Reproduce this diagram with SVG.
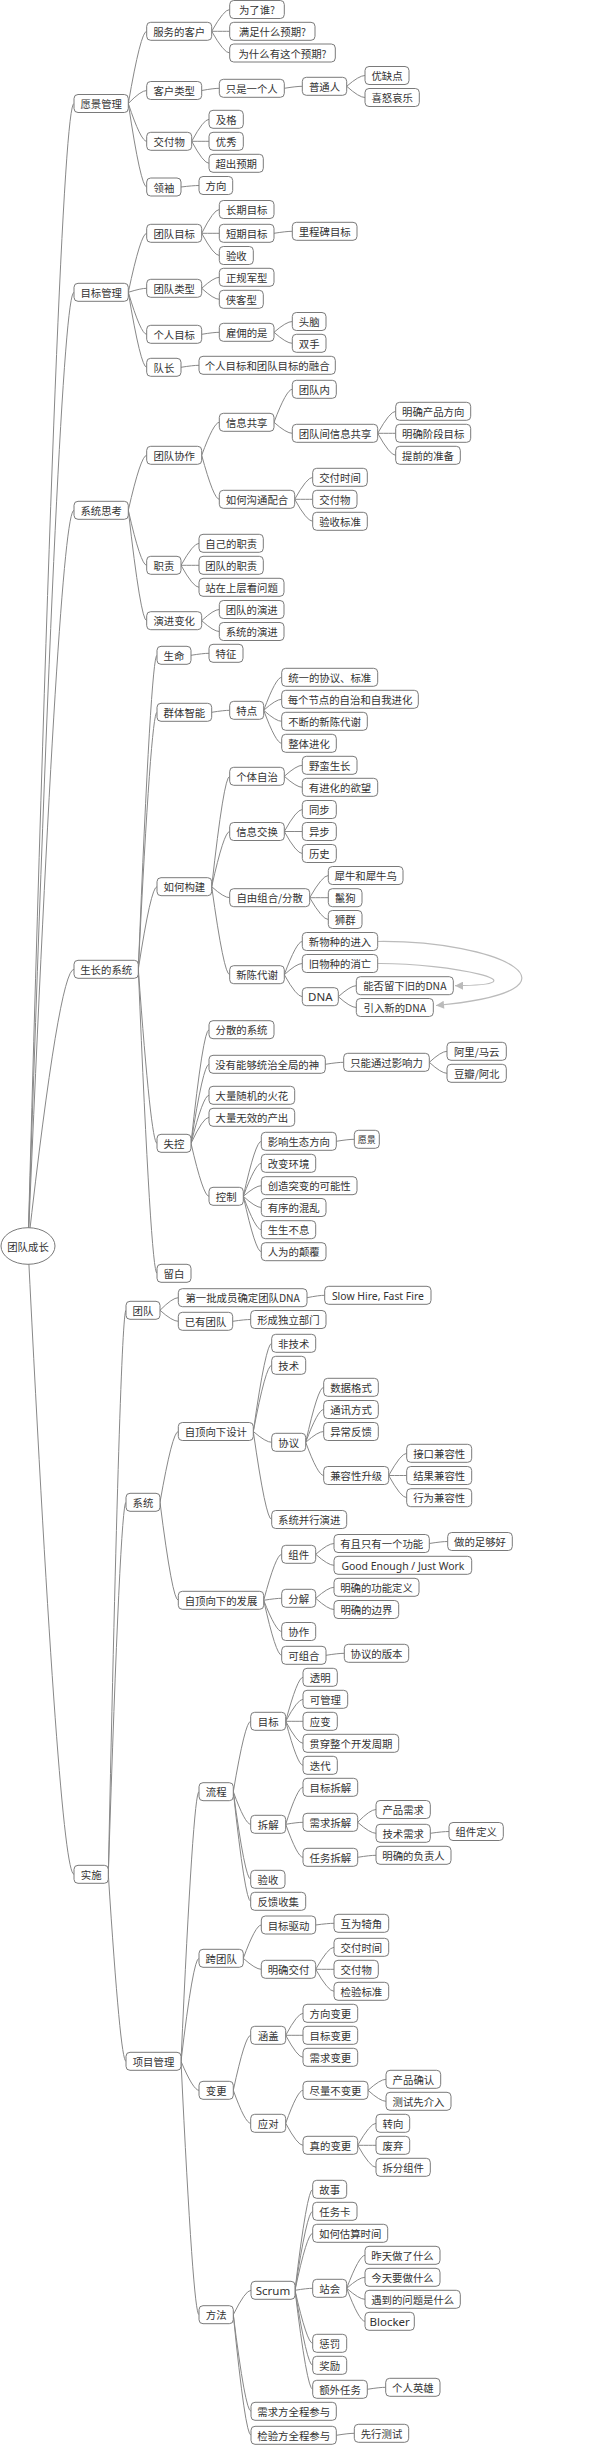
<svg xmlns="http://www.w3.org/2000/svg" width="611" height="2445" viewBox="0 0 611 2445">
<style>
.node rect{fill:#fff;stroke:#7a7a7a;stroke-width:1}
.node ellipse{fill:#fff;stroke:#7a7a7a;stroke-width:1}
.node text{font-family:"Noto Sans CJK SC","Noto Sans",sans-serif;font-size:10.4px;fill:#333;text-anchor:middle;dominant-baseline:central}
.node text.lat{font-family:"Noto Sans","Noto Sans CJK SC",sans-serif;font-size:11.5px}
.conn path{fill:none;stroke:#888;stroke-width:1}
.arrows path{fill:none;stroke:#bbb;stroke-width:1.2}
</style>
<defs>
<marker id="ah" viewBox="0 0 10 10" refX="10" refY="5" markerWidth="9" markerHeight="8" orient="auto" markerUnits="userSpaceOnUse"><path d="M0,0L10,5L0,10z" fill="#bbb" stroke="none"/></marker>
</defs>
<g class="conn" id="connectors">
<path d="M28 1246Q59.3 103.5 74 103.5"/>
<path d="M28 1246Q59.3 292.3 74 292.3"/>
<path d="M28 1246Q59.3 510.3 74 510.3"/>
<path d="M28 1246Q59.3 969.3 74 969.3"/>
<path d="M28 1246Q59.3 1874.3 74 1874.3"/>
<path d="M128.3 103.5Q140.8 31.3 146.7 31.3"/>
<path d="M128.3 103.5Q140.8 90.5 146.7 90.5"/>
<path d="M128.3 103.5Q140.8 141.3 146.7 141.3"/>
<path d="M128.3 103.5Q140.8 187 146.7 187"/>
<path d="M211.7 31.3Q223.9 9.5 229.7 9.5"/>
<path d="M211.7 31.3Q223.9 31.3 229.7 31.3"/>
<path d="M211.7 31.3Q223.9 53 229.7 53"/>
<path d="M201.7 90.5Q213.7 88.3 219.3 88.3"/>
<path d="M284.3 88.3Q296.5 86.3 302.3 86.3"/>
<path d="M346.7 86.3Q359.1 75.5 365 75.5"/>
<path d="M346.7 86.3Q359.1 97.5 365 97.5"/>
<path d="M191.7 141.3Q203.5 119.3 209 119.3"/>
<path d="M191.7 141.3Q203.5 141.3 209 141.3"/>
<path d="M191.7 141.3Q203.5 163.3 209 163.3"/>
<path d="M181 187Q193.2 185.5 199 185.5"/>
<path d="M128.3 292.3Q140.8 233.3 146.7 233.3"/>
<path d="M128.3 292.3Q140.8 288.3 146.7 288.3"/>
<path d="M128.3 292.3Q140.8 334.3 146.7 334.3"/>
<path d="M128.3 292.3Q140.8 367.3 146.7 367.3"/>
<path d="M201.7 233.3Q213.7 209.5 219.3 209.5"/>
<path d="M201.7 233.3Q213.7 233.3 219.3 233.3"/>
<path d="M201.7 233.3Q213.7 255.5 219.3 255.5"/>
<path d="M274 233.3Q286.4 231.3 292.3 231.3"/>
<path d="M201.7 288.3Q213.7 277.3 219.3 277.3"/>
<path d="M201.7 288.3Q213.7 299.3 219.3 299.3"/>
<path d="M201.7 334.3Q213.7 332.3 219.3 332.3"/>
<path d="M274 332.3Q286.4 321.5 292.3 321.5"/>
<path d="M274 332.3Q286.4 343.3 292.3 343.3"/>
<path d="M181 367.3Q193.2 365.3 199 365.3"/>
<path d="M128.3 510.3Q140.8 455.3 146.7 455.3"/>
<path d="M128.3 510.3Q140.8 565.3 146.7 565.3"/>
<path d="M128.3 510.3Q140.8 620.7 146.7 620.7"/>
<path d="M201.7 455.3Q213.7 422.3 219.3 422.3"/>
<path d="M201.7 455.3Q213.7 499.3 219.3 499.3"/>
<path d="M274 422.3Q286.4 389.3 292.3 389.3"/>
<path d="M274 422.3Q286.4 433.3 292.3 433.3"/>
<path d="M377.7 433.3Q389.9 411.3 395.7 411.3"/>
<path d="M377.7 433.3Q389.9 433.3 395.7 433.3"/>
<path d="M377.7 433.3Q389.9 455.3 395.7 455.3"/>
<path d="M294.7 499.3Q306.9 477.3 312.7 477.3"/>
<path d="M294.7 499.3Q306.9 499.3 312.7 499.3"/>
<path d="M294.7 499.3Q306.9 521.3 312.7 521.3"/>
<path d="M181 565.3Q193.2 543.3 199 543.3"/>
<path d="M181 565.3Q193.2 565.3 199 565.3"/>
<path d="M181 565.3Q193.2 587.3 199 587.3"/>
<path d="M201.7 620.7Q213.7 609.5 219.3 609.5"/>
<path d="M201.7 620.7Q213.7 631.5 219.3 631.5"/>
<path d="M138.3 969.3Q151 655.3 157 655.3"/>
<path d="M138.3 969.3Q151 712.3 157 712.3"/>
<path d="M138.3 969.3Q151 886.7 157 886.7"/>
<path d="M138.3 969.3Q151 1143.3 157 1143.3"/>
<path d="M138.3 969.3Q151 1273.3 157 1273.3"/>
<path d="M191 655.3Q203.2 653.3 209 653.3"/>
<path d="M211.7 712.3Q223.9 710.3 229.7 710.3"/>
<path d="M263.7 710.3Q275.9 677.3 281.7 677.3"/>
<path d="M263.7 710.3Q275.9 699.3 281.7 699.3"/>
<path d="M263.7 710.3Q275.9 721.3 281.7 721.3"/>
<path d="M263.7 710.3Q275.9 743.3 281.7 743.3"/>
<path d="M211.7 886.7Q223.9 776.3 229.7 776.3"/>
<path d="M211.7 886.7Q223.9 831.5 229.7 831.5"/>
<path d="M211.7 886.7Q223.9 897.7 229.7 897.7"/>
<path d="M211.7 886.7Q223.9 974.7 229.7 974.7"/>
<path d="M284.3 776.3Q296.5 765.3 302.3 765.3"/>
<path d="M284.3 776.3Q296.5 787.3 302.3 787.3"/>
<path d="M284.3 831.5Q296.5 809.5 302.3 809.5"/>
<path d="M284.3 831.5Q296.5 831.5 302.3 831.5"/>
<path d="M284.3 831.5Q296.5 853.5 302.3 853.5"/>
<path d="M309.7 897.7Q322.3 875.5 328.3 875.5"/>
<path d="M309.7 897.7Q322.3 897.7 328.3 897.7"/>
<path d="M309.7 897.7Q322.3 919.5 328.3 919.5"/>
<path d="M284.3 974.7Q296.5 941.5 302.3 941.5"/>
<path d="M284.3 974.7Q296.5 963.5 302.3 963.5"/>
<path d="M284.3 974.7Q296.5 996.7 302.3 996.7"/>
<path d="M338.3 996.7Q350.5 985.7 356.3 985.7"/>
<path d="M338.3 996.7Q350.5 1007.5 356.3 1007.5"/>
<path d="M191 1143.3Q203.2 1029.7 209 1029.7"/>
<path d="M191 1143.3Q203.2 1064.3 209 1064.3"/>
<path d="M191 1143.3Q203.2 1095.3 209 1095.3"/>
<path d="M191 1143.3Q203.2 1117.3 209 1117.3"/>
<path d="M191 1143.3Q203.2 1196.3 209 1196.3"/>
<path d="M325.3 1064.3Q337.8 1062.3 343.7 1062.3"/>
<path d="M429.3 1062.3Q441.3 1051.3 447 1051.3"/>
<path d="M429.3 1062.3Q441.3 1073.3 447 1073.3"/>
<path d="M243.3 1196.3Q255.5 1141.3 261.3 1141.3"/>
<path d="M243.3 1196.3Q255.5 1163.3 261.3 1163.3"/>
<path d="M243.3 1196.3Q255.5 1185.7 261.3 1185.7"/>
<path d="M243.3 1196.3Q255.5 1207.5 261.3 1207.5"/>
<path d="M243.3 1196.3Q255.5 1229.7 261.3 1229.7"/>
<path d="M243.3 1196.3Q255.5 1251.7 261.3 1251.7"/>
<path d="M336.3 1141.3Q348.5 1139.3 354.3 1139.3"/>
<path d="M108.3 1874.3Q120.3 1310.3 126 1310.3"/>
<path d="M108.3 1874.3Q120.3 1502.3 126 1502.3"/>
<path d="M108.3 1874.3Q120.3 2061.3 126 2061.3"/>
<path d="M160 1310.3Q172.4 1297.7 178.3 1297.7"/>
<path d="M160 1310.3Q172.4 1321.3 178.3 1321.3"/>
<path d="M307 1297.7Q319 1295.3 324.7 1295.3"/>
<path d="M232.7 1321.3Q244.9 1319.5 250.7 1319.5"/>
<path d="M160 1502.3Q172.4 1431.5 178.3 1431.5"/>
<path d="M160 1502.3Q172.4 1600.3 178.3 1600.3"/>
<path d="M253.3 1431.5Q265.8 1343.3 271.7 1343.3"/>
<path d="M253.3 1431.5Q265.8 1365.3 271.7 1365.3"/>
<path d="M253.3 1431.5Q265.8 1442.3 271.7 1442.3"/>
<path d="M253.3 1431.5Q265.8 1519.5 271.7 1519.5"/>
<path d="M305.7 1442.3Q317.9 1387.3 323.7 1387.3"/>
<path d="M305.7 1442.3Q317.9 1409.5 323.7 1409.5"/>
<path d="M305.7 1442.3Q317.9 1431.5 323.7 1431.5"/>
<path d="M305.7 1442.3Q317.9 1475.5 323.7 1475.5"/>
<path d="M388.7 1475.5Q400.9 1453.3 406.7 1453.3"/>
<path d="M388.7 1475.5Q400.9 1475.5 406.7 1475.5"/>
<path d="M388.7 1475.5Q400.9 1497.7 406.7 1497.7"/>
<path d="M263.7 1600.3Q275.9 1554.3 281.7 1554.3"/>
<path d="M263.7 1600.3Q275.9 1598.3 281.7 1598.3"/>
<path d="M263.7 1600.3Q275.9 1631.5 281.7 1631.5"/>
<path d="M263.7 1600.3Q275.9 1655.3 281.7 1655.3"/>
<path d="M315.7 1554.3Q328.1 1543.5 334 1543.5"/>
<path d="M315.7 1554.3Q328.1 1565.3 334 1565.3"/>
<path d="M429.3 1543.5Q441.8 1541.5 447.7 1541.5"/>
<path d="M315.7 1598.3Q328.1 1587.3 334 1587.3"/>
<path d="M315.7 1598.3Q328.1 1609.5 334 1609.5"/>
<path d="M326 1655.3Q338.4 1653.3 344.3 1653.3"/>
<path d="M181 2061.3Q193.2 1791.7 199 1791.7"/>
<path d="M181 2061.3Q193.2 1958.3 199 1958.3"/>
<path d="M181 2061.3Q193.2 2090.3 199 2090.3"/>
<path d="M181 2061.3Q193.2 2314.7 199 2314.7"/>
<path d="M233.3 1791.7Q245.1 1721.3 250.7 1721.3"/>
<path d="M233.3 1791.7Q245.1 1824.3 250.7 1824.3"/>
<path d="M233.3 1791.7Q245.1 1879.3 250.7 1879.3"/>
<path d="M233.3 1791.7Q245.1 1901.3 250.7 1901.3"/>
<path d="M285.7 1721.3Q297.5 1677.3 303 1677.3"/>
<path d="M285.7 1721.3Q297.5 1699.3 303 1699.3"/>
<path d="M285.7 1721.3Q297.5 1721.3 303 1721.3"/>
<path d="M285.7 1721.3Q297.5 1743.3 303 1743.3"/>
<path d="M285.7 1721.3Q297.5 1765.3 303 1765.3"/>
<path d="M285.7 1824.3Q297.5 1787.3 303 1787.3"/>
<path d="M285.7 1824.3Q297.5 1822.3 303 1822.3"/>
<path d="M285.7 1824.3Q297.5 1857.3 303 1857.3"/>
<path d="M357.7 1822.3Q370.1 1809.5 376 1809.5"/>
<path d="M357.7 1822.3Q370.1 1833.3 376 1833.3"/>
<path d="M430.3 1833.3Q443 1831.5 449 1831.5"/>
<path d="M357.7 1857.3Q370.1 1855.3 376 1855.3"/>
<path d="M243.3 1958.3Q255.5 1925 261.3 1925"/>
<path d="M243.3 1958.3Q255.5 1969.3 261.3 1969.3"/>
<path d="M315.7 1925Q328.1 1923.3 334 1923.3"/>
<path d="M315.7 1969.3Q328.1 1947.3 334 1947.3"/>
<path d="M315.7 1969.3Q328.1 1969.3 334 1969.3"/>
<path d="M315.7 1969.3Q328.1 1991.3 334 1991.3"/>
<path d="M233.3 2090.3Q245.1 2035.3 250.7 2035.3"/>
<path d="M233.3 2090.3Q245.1 2123.3 250.7 2123.3"/>
<path d="M285.7 2035.3Q297.5 2013.3 303 2013.3"/>
<path d="M285.7 2035.3Q297.5 2035.3 303 2035.3"/>
<path d="M285.7 2035.3Q297.5 2057.3 303 2057.3"/>
<path d="M285.7 2123.3Q297.5 2090.3 303 2090.3"/>
<path d="M285.7 2123.3Q297.5 2145.3 303 2145.3"/>
<path d="M368 2090.3Q380.2 2079.3 386 2079.3"/>
<path d="M368 2090.3Q380.2 2101.3 386 2101.3"/>
<path d="M357.7 2145.3Q370.1 2123.3 376 2123.3"/>
<path d="M357.7 2145.3Q370.1 2145.3 376 2145.3"/>
<path d="M357.7 2145.3Q370.1 2167.3 376 2167.3"/>
<path d="M233.3 2314.7Q245.3 2290.3 251 2290.3"/>
<path d="M233.3 2314.7Q245.3 2411.3 251 2411.3"/>
<path d="M233.3 2314.7Q245.3 2435.3 251 2435.3"/>
<path d="M295 2290.3Q307 2189.3 312.7 2189.3"/>
<path d="M295 2290.3Q307 2211.3 312.7 2211.3"/>
<path d="M295 2290.3Q307 2233.3 312.7 2233.3"/>
<path d="M295 2290.3Q307 2288.3 312.7 2288.3"/>
<path d="M295 2290.3Q307 2343.3 312.7 2343.3"/>
<path d="M295 2290.3Q307 2365.3 312.7 2365.3"/>
<path d="M295 2290.3Q307 2389.3 312.7 2389.3"/>
<path d="M346.7 2288.3Q359.1 2255.3 365 2255.3"/>
<path d="M346.7 2288.3Q359.1 2277.3 365 2277.3"/>
<path d="M346.7 2288.3Q359.1 2299.3 365 2299.3"/>
<path d="M346.7 2288.3Q359.1 2321.3 365 2321.3"/>
<path d="M367.3 2389.3Q379.8 2387.3 385.7 2387.3"/>
<path d="M336.3 2435.3Q348.5 2433.3 354.3 2433.3"/>
</g>
<g class="arrows" id="relations">
<path d="M377.7 941.5C500 940 600 990 436 1005.5" marker-end="url(#ah)"/>
<path d="M377.7 963.5C450 963 550 985 455 985.7" marker-end="url(#ah)"/>
</g>
<g id="nodes">
<g id="root" class="node"><ellipse cx="28" cy="1246" rx="27" ry="18.3"/><text x="28" y="1246">团队成长</text></g>
<g id="n1" class="node"><rect x="74" y="94.5" width="54.3" height="18" rx="4"/><text x="101.2" y="103.5">愿景管理</text></g>
<g id="n1a" class="node"><rect x="146.7" y="22.3" width="65" height="18" rx="4"/><text x="179.2" y="31.3">服务的客户</text></g>
<g id="n1a1" class="node"><rect x="229.7" y="0.5" width="54.6" height="18" rx="4"/><text x="257" y="9.5">为了谁?</text></g>
<g id="n1a2" class="node"><rect x="229.7" y="22.3" width="85.3" height="18" rx="4"/><text x="272.4" y="31.3">满足什么预期?</text></g>
<g id="n1a3" class="node"><rect x="229.7" y="44" width="105.6" height="18" rx="4"/><text x="282.5" y="53">为什么有这个预期?</text></g>
<g id="n1b" class="node"><rect x="146.7" y="81.5" width="55" height="18" rx="4"/><text x="174.2" y="90.5">客户类型</text></g>
<g id="n1b1" class="node"><rect x="219.3" y="79.3" width="65" height="18" rx="4"/><text x="251.8" y="88.3">只是一个人</text></g>
<g id="n1b1a" class="node"><rect x="302.3" y="77.3" width="44.4" height="18" rx="4"/><text x="324.5" y="86.3">普通人</text></g>
<g id="n1b1a1" class="node"><rect x="365" y="66.5" width="44" height="18" rx="4"/><text x="387" y="75.5">优缺点</text></g>
<g id="n1b1a2" class="node"><rect x="365" y="88.5" width="54.3" height="18" rx="4"/><text x="392.2" y="97.5">喜怒哀乐</text></g>
<g id="n1c" class="node"><rect x="146.7" y="132.3" width="45" height="18" rx="4"/><text x="169.2" y="141.3">交付物</text></g>
<g id="n1c1" class="node"><rect x="209" y="110.3" width="34.3" height="18" rx="4"/><text x="226.2" y="119.3">及格</text></g>
<g id="n1c2" class="node"><rect x="209" y="132.3" width="34.3" height="18" rx="4"/><text x="226.2" y="141.3">优秀</text></g>
<g id="n1c3" class="node"><rect x="209" y="154.3" width="54.3" height="18" rx="4"/><text x="236.2" y="163.3">超出预期</text></g>
<g id="n1d" class="node"><rect x="146.7" y="178" width="34.3" height="18" rx="4"/><text x="163.9" y="187">领袖</text></g>
<g id="n1d1" class="node"><rect x="199" y="176.5" width="33.7" height="18" rx="4"/><text x="215.9" y="185.5">方向</text></g>
<g id="n2" class="node"><rect x="74" y="283.3" width="54.3" height="18" rx="4"/><text x="101.2" y="292.3">目标管理</text></g>
<g id="n2a" class="node"><rect x="146.7" y="224.3" width="55" height="18" rx="4"/><text x="174.2" y="233.3">团队目标</text></g>
<g id="n2a1" class="node"><rect x="219.3" y="200.5" width="54.7" height="18" rx="4"/><text x="246.7" y="209.5">长期目标</text></g>
<g id="n2a2" class="node"><rect x="219.3" y="224.3" width="54.7" height="18" rx="4"/><text x="246.7" y="233.3">短期目标</text></g>
<g id="n2a2a" class="node"><rect x="292.3" y="222.3" width="64.7" height="18" rx="4"/><text x="324.7" y="231.3">里程碑目标</text></g>
<g id="n2a3" class="node"><rect x="219.3" y="246.5" width="34" height="18" rx="4"/><text x="236.3" y="255.5">验收</text></g>
<g id="n2b" class="node"><rect x="146.7" y="279.3" width="55" height="18" rx="4"/><text x="174.2" y="288.3">团队类型</text></g>
<g id="n2b1" class="node"><rect x="219.3" y="268.3" width="54.7" height="18" rx="4"/><text x="246.7" y="277.3">正规军型</text></g>
<g id="n2b2" class="node"><rect x="219.3" y="290.3" width="44" height="18" rx="4"/><text x="241.3" y="299.3">侠客型</text></g>
<g id="n2c" class="node"><rect x="146.7" y="325.3" width="55" height="18" rx="4"/><text x="174.2" y="334.3">个人目标</text></g>
<g id="n2c1" class="node"><rect x="219.3" y="323.3" width="54.7" height="18" rx="4"/><text x="246.7" y="332.3">雇佣的是</text></g>
<g id="n2c1a" class="node"><rect x="292.3" y="312.5" width="33.7" height="18" rx="4"/><text x="309.2" y="321.5">头脑</text></g>
<g id="n2c1b" class="node"><rect x="292.3" y="334.3" width="33.7" height="18" rx="4"/><text x="309.2" y="343.3">双手</text></g>
<g id="n2d" class="node"><rect x="146.7" y="358.3" width="34.3" height="18" rx="4"/><text x="163.9" y="367.3">队长</text></g>
<g id="n2d1" class="node"><rect x="199" y="356.3" width="136.3" height="18" rx="4"/><text x="267.2" y="365.3">个人目标和团队目标的融合</text></g>
<g id="n3" class="node"><rect x="74" y="501.3" width="54.3" height="18" rx="4"/><text x="101.2" y="510.3">系统思考</text></g>
<g id="n3a" class="node"><rect x="146.7" y="446.3" width="55" height="18" rx="4"/><text x="174.2" y="455.3">团队协作</text></g>
<g id="n3a1" class="node"><rect x="219.3" y="413.3" width="54.7" height="18" rx="4"/><text x="246.7" y="422.3">信息共享</text></g>
<g id="n3a1a" class="node"><rect x="292.3" y="380.3" width="44" height="18" rx="4"/><text x="314.3" y="389.3">团队内</text></g>
<g id="n3a1b" class="node"><rect x="292.3" y="424.3" width="85.4" height="18" rx="4"/><text x="335" y="433.3">团队间信息共享</text></g>
<g id="n3a1b1" class="node"><rect x="395.7" y="402.3" width="75" height="18" rx="4"/><text x="433.2" y="411.3">明确产品方向</text></g>
<g id="n3a1b2" class="node"><rect x="395.7" y="424.3" width="75" height="18" rx="4"/><text x="433.2" y="433.3">明确阶段目标</text></g>
<g id="n3a1b3" class="node"><rect x="395.7" y="446.3" width="64.6" height="18" rx="4"/><text x="428" y="455.3">提前的准备</text></g>
<g id="n3a2" class="node"><rect x="219.3" y="490.3" width="75.4" height="18" rx="4"/><text x="257" y="499.3">如何沟通配合</text></g>
<g id="n3a2a" class="node"><rect x="312.7" y="468.3" width="54.6" height="18" rx="4"/><text x="340" y="477.3">交付时间</text></g>
<g id="n3a2b" class="node"><rect x="312.7" y="490.3" width="44.3" height="18" rx="4"/><text x="334.9" y="499.3">交付物</text></g>
<g id="n3a2c" class="node"><rect x="312.7" y="512.3" width="54.6" height="18" rx="4"/><text x="340" y="521.3">验收标准</text></g>
<g id="n3b" class="node"><rect x="146.7" y="556.3" width="34.3" height="18" rx="4"/><text x="163.9" y="565.3">职责</text></g>
<g id="n3b1" class="node"><rect x="199" y="534.3" width="64.3" height="18" rx="4"/><text x="231.2" y="543.3">自己的职责</text></g>
<g id="n3b2" class="node"><rect x="199" y="556.3" width="64.3" height="18" rx="4"/><text x="231.2" y="565.3">团队的职责</text></g>
<g id="n3b3" class="node"><rect x="199" y="578.3" width="85" height="18" rx="4"/><text x="241.5" y="587.3">站在上层看问题</text></g>
<g id="n3c" class="node"><rect x="146.7" y="611.7" width="55" height="18" rx="4"/><text x="174.2" y="620.7">演进变化</text></g>
<g id="n3c1" class="node"><rect x="219.3" y="600.5" width="64.7" height="18" rx="4"/><text x="251.7" y="609.5">团队的演进</text></g>
<g id="n3c2" class="node"><rect x="219.3" y="622.5" width="64.7" height="18" rx="4"/><text x="251.7" y="631.5">系统的演进</text></g>
<g id="n4" class="node"><rect x="74" y="960.3" width="64.3" height="18" rx="4"/><text x="106.2" y="969.3">生长的系统</text></g>
<g id="n4a" class="node"><rect x="157" y="646.3" width="34" height="18" rx="4"/><text x="174" y="655.3">生命</text></g>
<g id="n4a1" class="node"><rect x="209" y="644.3" width="34" height="18" rx="4"/><text x="226" y="653.3">特征</text></g>
<g id="n4b" class="node"><rect x="157" y="703.3" width="54.7" height="18" rx="4"/><text x="184.4" y="712.3">群体智能</text></g>
<g id="n4b1" class="node"><rect x="229.7" y="701.3" width="34" height="18" rx="4"/><text x="246.7" y="710.3">特点</text></g>
<g id="n4b1a" class="node"><rect x="281.7" y="668.3" width="96" height="18" rx="4"/><text x="329.7" y="677.3">统一的协议、标准</text></g>
<g id="n4b1b" class="node"><rect x="281.7" y="690.3" width="136.6" height="18" rx="4"/><text x="350" y="699.3">每个节点的自治和自我进化</text></g>
<g id="n4b1c" class="node"><rect x="281.7" y="712.3" width="85.6" height="18" rx="4"/><text x="324.5" y="721.3">不断的新陈代谢</text></g>
<g id="n4b1d" class="node"><rect x="281.7" y="734.3" width="54.6" height="18" rx="4"/><text x="309" y="743.3">整体进化</text></g>
<g id="n4c" class="node"><rect x="157" y="877.7" width="54.7" height="18" rx="4"/><text x="184.4" y="886.7">如何构建</text></g>
<g id="n4c1" class="node"><rect x="229.7" y="767.3" width="54.6" height="18" rx="4"/><text x="257" y="776.3">个体自治</text></g>
<g id="n4c1a" class="node"><rect x="302.3" y="756.3" width="54.7" height="18" rx="4"/><text x="329.7" y="765.3">野蛮生长</text></g>
<g id="n4c1b" class="node"><rect x="302.3" y="778.3" width="75.4" height="18" rx="4"/><text x="340" y="787.3">有进化的欲望</text></g>
<g id="n4c2" class="node"><rect x="229.7" y="822.5" width="54.6" height="18" rx="4"/><text x="257" y="831.5">信息交换</text></g>
<g id="n4c2a" class="node"><rect x="302.3" y="800.5" width="34" height="18" rx="4"/><text x="319.3" y="809.5">同步</text></g>
<g id="n4c2b" class="node"><rect x="302.3" y="822.5" width="34" height="18" rx="4"/><text x="319.3" y="831.5">异步</text></g>
<g id="n4c2c" class="node"><rect x="302.3" y="844.5" width="34" height="18" rx="4"/><text x="319.3" y="853.5">历史</text></g>
<g id="n4c3" class="node"><rect x="229.7" y="888.7" width="80" height="18" rx="4"/><text x="269.7" y="897.7">自由组合/分散</text></g>
<g id="n4c3a" class="node"><rect x="328.3" y="866.5" width="74.7" height="18" rx="4"/><text x="365.7" y="875.5">犀牛和犀牛鸟</text></g>
<g id="n4c3b" class="node"><rect x="328.3" y="888.7" width="33.7" height="18" rx="4"/><text x="345.2" y="897.7">鬣狗</text></g>
<g id="n4c3c" class="node"><rect x="328.3" y="910.5" width="33.7" height="18" rx="4"/><text x="345.2" y="919.5">狮群</text></g>
<g id="n4c4" class="node"><rect x="229.7" y="965.7" width="54.6" height="18" rx="4"/><text x="257" y="974.7">新陈代谢</text></g>
<g id="n4c4a" class="node"><rect x="302.3" y="932.5" width="75.4" height="18" rx="4"/><text x="340" y="941.5">新物种的进入</text></g>
<g id="n4c4b" class="node"><rect x="302.3" y="954.5" width="75.4" height="18" rx="4"/><text x="340" y="963.5">旧物种的消亡</text></g>
<g id="n4c4c" class="node"><rect x="302.3" y="987.7" width="36" height="18" rx="4"/><text x="320.3" y="996.7" class="lat">DNA</text></g>
<g id="n4c4c1" class="node"><rect x="356.3" y="976.7" width="97" height="18" rx="4"/><text x="404.8" y="985.7">能否留下旧的DNA</text></g>
<g id="n4c4c2" class="node"><rect x="356.3" y="998.5" width="77" height="18" rx="4"/><text x="394.8" y="1007.5">引入新的DNA</text></g>
<g id="n4d" class="node"><rect x="157" y="1134.3" width="34" height="18" rx="4"/><text x="174" y="1143.3">失控</text></g>
<g id="n4d1" class="node"><rect x="209" y="1020.7" width="65" height="18" rx="4"/><text x="241.5" y="1029.7">分散的系统</text></g>
<g id="n4d2" class="node"><rect x="209" y="1055.3" width="116.3" height="18" rx="4"/><text x="267.2" y="1064.3">没有能够统治全局的神</text></g>
<g id="n4d2a" class="node"><rect x="343.7" y="1053.3" width="85.6" height="18" rx="4"/><text x="386.5" y="1062.3">只能通过影响力</text></g>
<g id="n4d2a1" class="node"><rect x="447" y="1042.3" width="59.3" height="18" rx="4"/><text x="476.7" y="1051.3">阿里/马云</text></g>
<g id="n4d2a2" class="node"><rect x="447" y="1064.3" width="59.3" height="18" rx="4"/><text x="476.7" y="1073.3">豆瓣/阿北</text></g>
<g id="n4d3" class="node"><rect x="209" y="1086.3" width="85.7" height="18" rx="4"/><text x="251.9" y="1095.3">大量随机的火花</text></g>
<g id="n4d4" class="node"><rect x="209" y="1108.3" width="85.7" height="18" rx="4"/><text x="251.9" y="1117.3">大量无效的产出</text></g>
<g id="n4d5" class="node"><rect x="209" y="1187.3" width="34.3" height="18" rx="4"/><text x="226.2" y="1196.3">控制</text></g>
<g id="n4d5a" class="node"><rect x="261.3" y="1132.3" width="75" height="18" rx="4"/><text x="298.8" y="1141.3">影响生态方向</text></g>
<g id="n4d5a1" class="node"><rect x="354.3" y="1130.3" width="25" height="18" rx="4"/><text x="366.8" y="1139.3" style="font-size:9px">愿景</text></g>
<g id="n4d5b" class="node"><rect x="261.3" y="1154.3" width="54.4" height="18" rx="4"/><text x="288.5" y="1163.3">改变环境</text></g>
<g id="n4d5c" class="node"><rect x="261.3" y="1176.7" width="95.7" height="18" rx="4"/><text x="309.2" y="1185.7">创造突变的可能性</text></g>
<g id="n4d5d" class="node"><rect x="261.3" y="1198.5" width="64.7" height="18" rx="4"/><text x="293.7" y="1207.5">有序的混乱</text></g>
<g id="n4d5e" class="node"><rect x="261.3" y="1220.7" width="54.4" height="18" rx="4"/><text x="288.5" y="1229.7">生生不息</text></g>
<g id="n4d5f" class="node"><rect x="261.3" y="1242.7" width="64.7" height="18" rx="4"/><text x="293.7" y="1251.7">人为的颠覆</text></g>
<g id="n4e" class="node"><rect x="157" y="1264.3" width="34" height="18" rx="4"/><text x="174" y="1273.3">留白</text></g>
<g id="n5" class="node"><rect x="74" y="1865.3" width="34.3" height="18" rx="4"/><text x="91.2" y="1874.3">实施</text></g>
<g id="n5a" class="node"><rect x="126" y="1301.3" width="34" height="18" rx="4"/><text x="143" y="1310.3">团队</text></g>
<g id="n5a1" class="node"><rect x="178.3" y="1288.7" width="128.7" height="18" rx="4"/><text x="242.7" y="1297.7">第一批成员确定团队DNA</text></g>
<g id="n5a1a" class="node"><rect x="324.7" y="1286.3" width="106.3" height="18" rx="4"/><text x="377.9" y="1295.3" class="lat" textLength="92" lengthAdjust="spacingAndGlyphs">Slow Hire, Fast Fire</text></g>
<g id="n5a2" class="node"><rect x="178.3" y="1312.3" width="54.4" height="18" rx="4"/><text x="205.5" y="1321.3">已有团队</text></g>
<g id="n5a2a" class="node"><rect x="250.7" y="1310.5" width="75.3" height="18" rx="4"/><text x="288.4" y="1319.5">形成独立部门</text></g>
<g id="n5b" class="node"><rect x="126" y="1493.3" width="34" height="18" rx="4"/><text x="143" y="1502.3">系统</text></g>
<g id="n5b1" class="node"><rect x="178.3" y="1422.5" width="75" height="18" rx="4"/><text x="215.8" y="1431.5">自顶向下设计</text></g>
<g id="n5b1a" class="node"><rect x="271.7" y="1334.3" width="44" height="18" rx="4"/><text x="293.7" y="1343.3">非技术</text></g>
<g id="n5b1b" class="node"><rect x="271.7" y="1356.3" width="34" height="18" rx="4"/><text x="288.7" y="1365.3">技术</text></g>
<g id="n5b1c" class="node"><rect x="271.7" y="1433.3" width="34" height="18" rx="4"/><text x="288.7" y="1442.3">协议</text></g>
<g id="n5b1c1" class="node"><rect x="323.7" y="1378.3" width="54.6" height="18" rx="4"/><text x="351" y="1387.3">数据格式</text></g>
<g id="n5b1c2" class="node"><rect x="323.7" y="1400.5" width="54.6" height="18" rx="4"/><text x="351" y="1409.5">通讯方式</text></g>
<g id="n5b1c3" class="node"><rect x="323.7" y="1422.5" width="54.6" height="18" rx="4"/><text x="351" y="1431.5">异常反馈</text></g>
<g id="n5b1c4" class="node"><rect x="323.7" y="1466.5" width="65" height="18" rx="4"/><text x="356.2" y="1475.5">兼容性升级</text></g>
<g id="n5b1c4a" class="node"><rect x="406.7" y="1444.3" width="65" height="18" rx="4"/><text x="439.2" y="1453.3">接口兼容性</text></g>
<g id="n5b1c4b" class="node"><rect x="406.7" y="1466.5" width="65" height="18" rx="4"/><text x="439.2" y="1475.5">结果兼容性</text></g>
<g id="n5b1c4c" class="node"><rect x="406.7" y="1488.7" width="65" height="18" rx="4"/><text x="439.2" y="1497.7">行为兼容性</text></g>
<g id="n5b1d" class="node"><rect x="271.7" y="1510.5" width="75" height="18" rx="4"/><text x="309.2" y="1519.5">系统并行演进</text></g>
<g id="n5b2" class="node"><rect x="178.3" y="1591.3" width="85.4" height="18" rx="4"/><text x="221" y="1600.3">自顶向下的发展</text></g>
<g id="n5b2a" class="node"><rect x="281.7" y="1545.3" width="34" height="18" rx="4"/><text x="298.7" y="1554.3">组件</text></g>
<g id="n5b2a1" class="node"><rect x="334" y="1534.5" width="95.3" height="18" rx="4"/><text x="381.7" y="1543.5">有且只有一个功能</text></g>
<g id="n5b2a1a" class="node"><rect x="447.7" y="1532.5" width="64.6" height="18" rx="4"/><text x="480" y="1541.5">做的足够好</text></g>
<g id="n5b2a2" class="node"><rect x="334" y="1556.3" width="137.7" height="18" rx="4"/><text x="402.9" y="1565.3" class="lat" textLength="123" lengthAdjust="spacingAndGlyphs">Good Enough / Just Work</text></g>
<g id="n5b2b" class="node"><rect x="281.7" y="1589.3" width="34" height="18" rx="4"/><text x="298.7" y="1598.3">分解</text></g>
<g id="n5b2b1" class="node"><rect x="334" y="1578.3" width="85" height="18" rx="4"/><text x="376.5" y="1587.3">明确的功能定义</text></g>
<g id="n5b2b2" class="node"><rect x="334" y="1600.5" width="64.7" height="18" rx="4"/><text x="366.4" y="1609.5">明确的边界</text></g>
<g id="n5b2c" class="node"><rect x="281.7" y="1622.5" width="34" height="18" rx="4"/><text x="298.7" y="1631.5">协作</text></g>
<g id="n5b2d" class="node"><rect x="281.7" y="1646.3" width="44.3" height="18" rx="4"/><text x="303.9" y="1655.3">可组合</text></g>
<g id="n5b2d1" class="node"><rect x="344.3" y="1644.3" width="64.4" height="18" rx="4"/><text x="376.5" y="1653.3">协议的版本</text></g>
<g id="n5c" class="node"><rect x="126" y="2052.3" width="55" height="18" rx="4"/><text x="153.5" y="2061.3">项目管理</text></g>
<g id="n5c1" class="node"><rect x="199" y="1782.7" width="34.3" height="18" rx="4"/><text x="216.2" y="1791.7">流程</text></g>
<g id="n5c1a" class="node"><rect x="250.7" y="1712.3" width="35" height="18" rx="4"/><text x="268.2" y="1721.3">目标</text></g>
<g id="n5c1a1" class="node"><rect x="303" y="1668.3" width="34.3" height="18" rx="4"/><text x="320.2" y="1677.3">透明</text></g>
<g id="n5c1a2" class="node"><rect x="303" y="1690.3" width="44.7" height="18" rx="4"/><text x="325.4" y="1699.3">可管理</text></g>
<g id="n5c1a3" class="node"><rect x="303" y="1712.3" width="34.3" height="18" rx="4"/><text x="320.2" y="1721.3">应变</text></g>
<g id="n5c1a4" class="node"><rect x="303" y="1734.3" width="95.7" height="18" rx="4"/><text x="350.9" y="1743.3">贯穿整个开发周期</text></g>
<g id="n5c1a5" class="node"><rect x="303" y="1756.3" width="34.3" height="18" rx="4"/><text x="320.2" y="1765.3">迭代</text></g>
<g id="n5c1b" class="node"><rect x="250.7" y="1815.3" width="35" height="18" rx="4"/><text x="268.2" y="1824.3">拆解</text></g>
<g id="n5c1b1" class="node"><rect x="303" y="1778.3" width="54.7" height="18" rx="4"/><text x="330.4" y="1787.3">目标拆解</text></g>
<g id="n5c1b2" class="node"><rect x="303" y="1813.3" width="54.7" height="18" rx="4"/><text x="330.4" y="1822.3">需求拆解</text></g>
<g id="n5c1b2a" class="node"><rect x="376" y="1800.5" width="54.3" height="18" rx="4"/><text x="403.2" y="1809.5">产品需求</text></g>
<g id="n5c1b2b" class="node"><rect x="376" y="1824.3" width="54.3" height="18" rx="4"/><text x="403.2" y="1833.3">技术需求</text></g>
<g id="n5c1b2b1" class="node"><rect x="449" y="1822.5" width="54.3" height="18" rx="4"/><text x="476.2" y="1831.5">组件定义</text></g>
<g id="n5c1b3" class="node"><rect x="303" y="1848.3" width="54.7" height="18" rx="4"/><text x="330.4" y="1857.3">任务拆解</text></g>
<g id="n5c1b3a" class="node"><rect x="376" y="1846.3" width="75" height="18" rx="4"/><text x="413.5" y="1855.3">明确的负责人</text></g>
<g id="n5c1c" class="node"><rect x="250.7" y="1870.3" width="34.3" height="18" rx="4"/><text x="267.9" y="1879.3">验收</text></g>
<g id="n5c1d" class="node"><rect x="250.7" y="1892.3" width="55" height="18" rx="4"/><text x="278.2" y="1901.3">反馈收集</text></g>
<g id="n5c2" class="node"><rect x="199" y="1949.3" width="44.3" height="18" rx="4"/><text x="221.2" y="1958.3">跨团队</text></g>
<g id="n5c2a" class="node"><rect x="261.3" y="1916" width="54.4" height="18" rx="4"/><text x="288.5" y="1925">目标驱动</text></g>
<g id="n5c2a1" class="node"><rect x="334" y="1914.3" width="54.7" height="18" rx="4"/><text x="361.4" y="1923.3">互为犄角</text></g>
<g id="n5c2b" class="node"><rect x="261.3" y="1960.3" width="54.4" height="18" rx="4"/><text x="288.5" y="1969.3">明确交付</text></g>
<g id="n5c2b1" class="node"><rect x="334" y="1938.3" width="54.7" height="18" rx="4"/><text x="361.4" y="1947.3">交付时间</text></g>
<g id="n5c2b2" class="node"><rect x="334" y="1960.3" width="44.3" height="18" rx="4"/><text x="356.2" y="1969.3">交付物</text></g>
<g id="n5c2b3" class="node"><rect x="334" y="1982.3" width="54.7" height="18" rx="4"/><text x="361.4" y="1991.3">检验标准</text></g>
<g id="n5c3" class="node"><rect x="199" y="2081.3" width="34.3" height="18" rx="4"/><text x="216.2" y="2090.3">变更</text></g>
<g id="n5c3a" class="node"><rect x="250.7" y="2026.3" width="35" height="18" rx="4"/><text x="268.2" y="2035.3">涵盖</text></g>
<g id="n5c3a1" class="node"><rect x="303" y="2004.3" width="54.7" height="18" rx="4"/><text x="330.4" y="2013.3">方向变更</text></g>
<g id="n5c3a2" class="node"><rect x="303" y="2026.3" width="54.7" height="18" rx="4"/><text x="330.4" y="2035.3">目标变更</text></g>
<g id="n5c3a3" class="node"><rect x="303" y="2048.3" width="54.7" height="18" rx="4"/><text x="330.4" y="2057.3">需求变更</text></g>
<g id="n5c3b" class="node"><rect x="250.7" y="2114.3" width="35" height="18" rx="4"/><text x="268.2" y="2123.3">应对</text></g>
<g id="n5c3b1" class="node"><rect x="303" y="2081.3" width="65" height="18" rx="4"/><text x="335.5" y="2090.3">尽量不变更</text></g>
<g id="n5c3b1a" class="node"><rect x="386" y="2070.3" width="54.7" height="18" rx="4"/><text x="413.4" y="2079.3">产品确认</text></g>
<g id="n5c3b1b" class="node"><rect x="386" y="2092.3" width="65" height="18" rx="4"/><text x="418.5" y="2101.3">测试先介入</text></g>
<g id="n5c3b2" class="node"><rect x="303" y="2136.3" width="54.7" height="18" rx="4"/><text x="330.4" y="2145.3">真的变更</text></g>
<g id="n5c3b2a" class="node"><rect x="376" y="2114.3" width="33.7" height="18" rx="4"/><text x="392.9" y="2123.3">转向</text></g>
<g id="n5c3b2b" class="node"><rect x="376" y="2136.3" width="33.7" height="18" rx="4"/><text x="392.9" y="2145.3">废弃</text></g>
<g id="n5c3b2c" class="node"><rect x="376" y="2158.3" width="54.3" height="18" rx="4"/><text x="403.2" y="2167.3">拆分组件</text></g>
<g id="n5c4" class="node"><rect x="199" y="2305.7" width="34.3" height="18" rx="4"/><text x="216.2" y="2314.7">方法</text></g>
<g id="n5c4a" class="node"><rect x="251" y="2281.3" width="44" height="18" rx="4"/><text x="273" y="2290.3" class="lat">Scrum</text></g>
<g id="n5c4a1" class="node"><rect x="312.7" y="2180.3" width="34" height="18" rx="4"/><text x="329.7" y="2189.3">故事</text></g>
<g id="n5c4a2" class="node"><rect x="312.7" y="2202.3" width="44.3" height="18" rx="4"/><text x="334.9" y="2211.3">任务卡</text></g>
<g id="n5c4a3" class="node"><rect x="312.7" y="2224.3" width="75" height="18" rx="4"/><text x="350.2" y="2233.3">如何估算时间</text></g>
<g id="n5c4a4" class="node"><rect x="312.7" y="2279.3" width="34" height="18" rx="4"/><text x="329.7" y="2288.3">站会</text></g>
<g id="n5c4a4a" class="node"><rect x="365" y="2246.3" width="75" height="18" rx="4"/><text x="402.5" y="2255.3">昨天做了什么</text></g>
<g id="n5c4a4b" class="node"><rect x="365" y="2268.3" width="75" height="18" rx="4"/><text x="402.5" y="2277.3">今天要做什么</text></g>
<g id="n5c4a4c" class="node"><rect x="365" y="2290.3" width="95.3" height="18" rx="4"/><text x="412.7" y="2299.3">遇到的问题是什么</text></g>
<g id="n5c4a4d" class="node"><rect x="365" y="2312.3" width="49.3" height="18" rx="4"/><text x="389.7" y="2321.3" class="lat">Blocker</text></g>
<g id="n5c4a5" class="node"><rect x="312.7" y="2334.3" width="34" height="18" rx="4"/><text x="329.7" y="2343.3">惩罚</text></g>
<g id="n5c4a6" class="node"><rect x="312.7" y="2356.3" width="34" height="18" rx="4"/><text x="329.7" y="2365.3">奖励</text></g>
<g id="n5c4a7" class="node"><rect x="312.7" y="2380.3" width="54.6" height="18" rx="4"/><text x="340" y="2389.3">额外任务</text></g>
<g id="n5c4a7a" class="node"><rect x="385.7" y="2378.3" width="54.3" height="18" rx="4"/><text x="412.9" y="2387.3">个人英雄</text></g>
<g id="n5c4b" class="node"><rect x="251" y="2402.3" width="85.3" height="18" rx="4"/><text x="293.7" y="2411.3">需求方全程参与</text></g>
<g id="n5c4c" class="node"><rect x="251" y="2426.3" width="85.3" height="18" rx="4"/><text x="293.7" y="2435.3">检验方全程参与</text></g>
<g id="n5c4c1" class="node"><rect x="354.3" y="2424.3" width="54.4" height="18" rx="4"/><text x="381.5" y="2433.3">先行测试</text></g>
</g>
</svg>
